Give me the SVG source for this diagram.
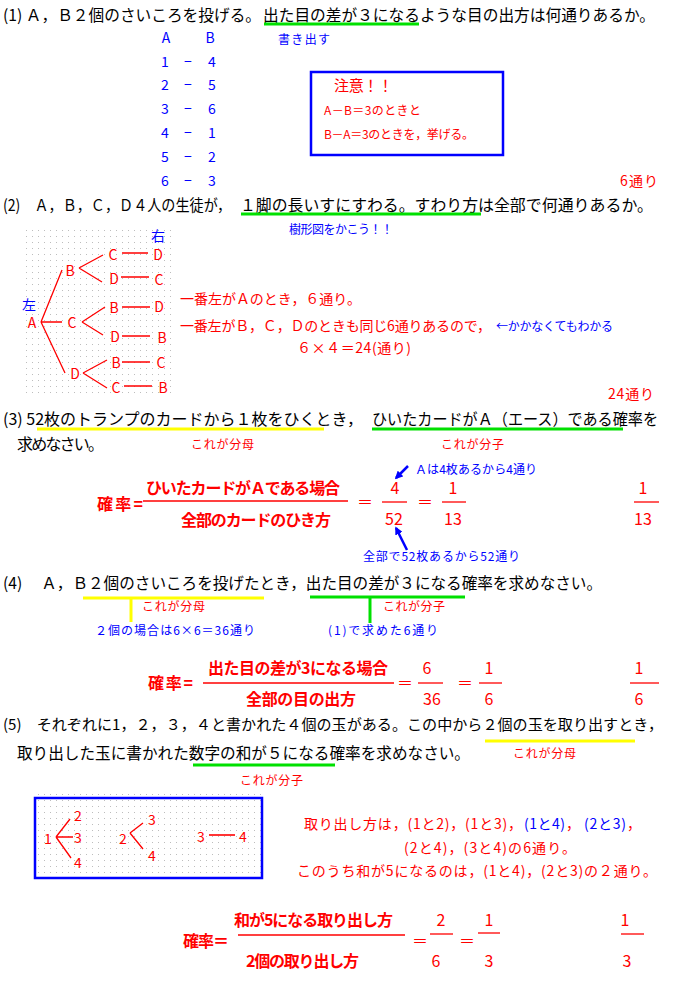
<svg xmlns="http://www.w3.org/2000/svg" width="680" height="997" viewBox="0 0 680 997">
<defs>
<style>
text{font-family:"Noto Sans CJK JP","Noto Sans",sans-serif;dominant-baseline:central}
.m{font-size:16px;fill:#000}
.s{font-size:12px}
.n{font-size:14px}
.f{font-size:16px}
.r{fill:#ff0000}
.b{fill:#0000ff}
.bd{font-weight:bold}
.c{text-anchor:middle}
.ln{stroke:#ff0000;stroke-width:1.3;fill:none}
.gu{stroke:#00e000;stroke-width:3}
.yu{stroke:#ffff00;stroke-width:3}
.bx{fill:none;stroke:#0000ff;stroke-width:2.5}
.ar{stroke:#0000ff;stroke-width:2.5;fill:none}
</style>
<pattern id="dots" width="6" height="6" patternUnits="userSpaceOnUse"><rect x="2" y="2" width="1" height="1" fill="#bdbdbd"/></pattern>
<marker id="ah" viewBox="0 0 10 10" refX="8" refY="5" markerWidth="3.2" markerHeight="3.2" orient="auto"><path d="M0,0 L10,5 L0,10 z" fill="#0000ff"/></marker>
</defs>
<rect width="680" height="997" fill="#fff"/>

<g id="q1">
<text class="m" x="3" y="14" textLength="258" lengthAdjust="spacingAndGlyphs">(1) Ａ，Ｂ２個のさいころを投げる。</text>
<text class="m" x="263" y="14" textLength="392" lengthAdjust="spacingAndGlyphs">出た目の差が３になるような目の出方は何通りあるか。</text>
<line class="gu" x1="264" y1="24" x2="419" y2="24"/>
<text class="s b" x="278" y="38" textLength="52">書き出す</text>
<g id="q1-list">
<text class="n b c" x="166" y="37">A</text><text class="n b c" x="210" y="37">B</text>
<text class="n b c" x="165" y="61">1</text><text class="n b c" x="188" y="61">−</text><text class="n b c" x="212" y="61">4</text>
<text class="n b c" x="165" y="84">2</text><text class="n b c" x="188" y="84">−</text><text class="n b c" x="212" y="84">5</text>
<text class="n b c" x="165" y="108">3</text><text class="n b c" x="188" y="108">−</text><text class="n b c" x="212" y="108">6</text>
<text class="n b c" x="165" y="132">4</text><text class="n b c" x="188" y="132">−</text><text class="n b c" x="212" y="132">1</text>
<text class="n b c" x="165" y="156">5</text><text class="n b c" x="188" y="156">−</text><text class="n b c" x="212" y="156">2</text>
<text class="n b c" x="165" y="180">6</text><text class="n b c" x="188" y="180">−</text><text class="n b c" x="212" y="180">3</text>
</g>
<g id="q1-note">
<rect class="bx" x="311" y="72" width="192" height="83"/>
<text class="r" style="font-size:15px" x="334" y="84" textLength="59">注意！！</text>
<text class="s r" x="324" y="109" textLength="97">A－B＝3のときと</text>
<text class="s r" x="324" y="133" textLength="150">B－A＝3のときを，挙げる。</text>
</g>
<text class="n r" x="620" y="180" textLength="38">6通り</text>
</g>

<g id="q2">
<text class="m" x="3" y="204" textLength="228" lengthAdjust="spacingAndGlyphs">(2)　Ａ，Ｂ，Ｃ，Ｄ４人の生徒が，</text>
<text class="m" x="240" y="204" textLength="238" lengthAdjust="spacingAndGlyphs">１脚の長いすにすわる。すわり方</text>
<text class="m" x="478" y="204" textLength="175" lengthAdjust="spacingAndGlyphs">は全部で何通りあるか。</text>
<line class="gu" x1="241" y1="214" x2="481" y2="214"/>
<text class="s b" x="289" y="228" textLength="104">樹形図をかこう！！</text>
<rect x="22" y="229" width="150" height="166" fill="url(#dots)"/>
<g id="tree1">
<text class="n b c" x="158" y="235">右</text>
<text class="n b c" x="29" y="304">左</text>
<text class="n r c" x="32" y="322">A</text>
<text class="n r c" x="70" y="270">B</text>
<text class="n r c" x="72" y="322">C</text>
<text class="n r c" x="75" y="373">D</text>
<text class="n r c" x="113" y="254">C</text><text class="n r c" x="158" y="254">D</text>
<text class="n r c" x="114" y="278">D</text><text class="n r c" x="159" y="279">C</text>
<text class="n r c" x="114" y="307">B</text><text class="n r c" x="159" y="306">D</text>
<text class="n r c" x="115" y="336">D</text><text class="n r c" x="162" y="337">B</text>
<text class="n r c" x="116" y="362">B</text><text class="n r c" x="161" y="362">C</text>
<text class="n r c" x="116" y="387">C</text><text class="n r c" x="163" y="387">B</text>
</g>
<g id="tree1-lines">
<path class="ln" d="M41,322 L62,270 M41,322 L62,322 M41,322 L65,373 M79,268 L103,255 M79,268 L102,282 M82,322 L105,307 M82,322 L103,335 M83,373 L107,360 M83,373 L107,388"/>
<path class="ln" style="stroke-width:1.6" d="M122,253 H148 M121,277 H149 M122,307 H150 M122,336 H150 M122,362 H150 M124,386 H152"/>
</g>
<text class="n r" x="180" y="298" textLength="181">一番左がＡのとき，６通り。</text>
<text class="n r" x="180" y="325" textLength="311">一番左がＢ，Ｃ，Ｄのときも同じ6通りあるので，</text>
<text class="s b" x="496" y="325" textLength="117">←かかなくてもわかる</text>
<text class="n r" x="297" y="347" textLength="114">６×４＝24(通り)</text>
<text class="n r" x="608" y="393" textLength="46">24通り</text>
</g>

<g id="q3">
<text class="m" x="3" y="418" textLength="360" lengthAdjust="spacingAndGlyphs">(3) 52枚のトランプのカードから１枚をひくとき，</text>
<text class="m" x="372" y="418" textLength="286" lengthAdjust="spacingAndGlyphs">ひいたカードがＡ（エース）である確率を</text>
<line class="yu" x1="37" y1="429" x2="324" y2="429"/>
<line class="gu" x1="372" y1="429" x2="623" y2="429"/>
<text class="m" x="17" y="443" textLength="87">求めなさい。</text>
<text class="s r" x="191" y="443" textLength="63">これが分母</text>
<text class="s r" x="441" y="443" textLength="63">これが分子</text>
<text class="s b" x="415" y="468" textLength="122">Ａは4枚あるから4通り</text>
<path class="ar" d="M408,466 L396,478" marker-end="url(#ah)"/>
<text class="f r bd" x="97" y="503" textLength="46">確率=</text>
<text class="f r bd" x="146" y="487" textLength="194">ひいたカードがＡである場合</text>
<line class="ln" x1="143" y1="501" x2="348" y2="501"/>
<text class="f r bd" x="181" y="519" textLength="150">全部のカードのひき方</text>
<text class="f r c" x="365" y="501">＝</text>
<text class="f r c" x="395" y="487">4</text>
<line class="ln" x1="382" y1="502" x2="407" y2="502"/>
<text class="f r c" x="394" y="518">52</text>
<text class="f r c" x="425" y="501">＝</text>
<text class="f r c" x="453" y="487">1</text>
<line class="ln" x1="442" y1="502" x2="466" y2="502"/>
<text class="f r c" x="453" y="518">13</text>
<text class="f r c" x="643" y="487">1</text>
<line class="ln" x1="634" y1="502" x2="659" y2="502"/>
<text class="f r c" x="643" y="518">13</text>
<path class="ar" d="M407,550 L396,528" marker-end="url(#ah)"/>
<text class="s b" x="363" y="555" textLength="157">全部で52枚あるから52通り</text>
</g>

<g id="q4">
<text class="m" x="3" y="582" textLength="599" lengthAdjust="spacingAndGlyphs">(4)　 Ａ，Ｂ２個のさいころを投げたとき，出た目の差が３になる確率を求めなさい。</text>
<line class="yu" x1="83" y1="598" x2="264" y2="598"/>
<line class="yu" x1="131" y1="598" x2="131" y2="622"/>
<text class="s r" x="142" y="605" textLength="63">これが分母</text>
<text class="s b" x="95" y="629" textLength="160">２個の場合は6×6＝36通り</text>
<line class="gu" x1="310" y1="597" x2="465" y2="597"/>
<line class="gu" x1="370" y1="597" x2="370" y2="623"/>
<text class="s r" x="383" y="605" textLength="62">これが分子</text>
<text class="s b" x="328" y="629" textLength="110">(1)で求めた6通り</text>
<text class="f r bd" x="148" y="682" textLength="45">確率=</text>
<text class="f r bd" x="208" y="667" textLength="180">出た目の差が3になる場合</text>
<line class="ln" x1="203" y1="683" x2="394" y2="683"/>
<text class="f r bd" x="246" y="698" textLength="110">全部の目の出方</text>
<text class="f r c" x="405" y="682">＝</text>
<text class="f r c" x="427" y="667">6</text>
<line class="ln" x1="418" y1="683" x2="443" y2="683"/>
<text class="f r c" x="432" y="698">36</text>
<text class="f r c" x="465" y="682">＝</text>
<text class="f r c" x="489" y="667">1</text>
<line class="ln" x1="479" y1="683" x2="502" y2="683"/>
<text class="f r c" x="489" y="698">6</text>
<text class="f r c" x="639" y="667">1</text>
<line class="ln" x1="630" y1="683" x2="659" y2="683"/>
<text class="f r c" x="639" y="698">6</text>
</g>

<g id="q5">
<text class="m" style="font-size:15px" x="3" y="723" textLength="660" lengthAdjust="spacingAndGlyphs">(5)　それぞれに1，２，３，４と書かれた４個の玉がある。この中から２個の玉を取り出すとき，</text>
<text class="m" x="17" y="752" textLength="453" lengthAdjust="spacingAndGlyphs">取り出した玉に書かれた数字の和が５になる確率を求めなさい。</text>
<line class="yu" x1="485" y1="741" x2="635" y2="741"/>
<text class="s r" x="513" y="752" textLength="63">これが分母</text>
<line class="gu" x1="193" y1="765" x2="335" y2="765"/>
<text class="s r" x="240" y="779" textLength="63">これが分子</text>
<rect x="33" y="794" width="232" height="87" fill="url(#dots)"/>
<rect class="bx" x="35" y="798" width="227" height="80"/>
<g id="tree2">
<text class="n r c" x="48" y="838">1</text>
<text class="n r c" x="78" y="815">2</text>
<text class="n r c" x="78" y="837">3</text>
<text class="n r c" x="78" y="862">4</text>
<text class="n r c" x="123" y="838">2</text>
<text class="n r c" x="152" y="819">3</text>
<text class="n r c" x="152" y="855">4</text>
<text class="n r c" x="201" y="836">3</text>
<text class="n r c" x="243" y="836">4</text>
</g>
<g id="tree2-lines">
<path class="ln" d="M56,837 L70,819 M56,837 L73,837 M56,837 L71,858 M130,833 L143,823 M130,833 L143,849"/>
<path class="ln" style="stroke-width:1.6" d="M209,835 H235"/>
</g>
<text class="n r" x="304" y="823" textLength="218">取り出し方は，(1と2)，(1と3)，</text>
<text class="n b" x="524" y="823" textLength="41">(1と4)</text>
<text class="n r" x="566" y="823">，</text>
<text class="n b" x="584" y="823" textLength="42">(2と3)</text>
<text class="n r" x="627" y="823">，</text>
<text class="n r" x="404" y="847" textLength="172">(2と4)，(3と4)の6通り。</text>
<text class="n r" x="297" y="870" textLength="360">このうち和が5になるのは，(1と4)，(2と3)の２通り。</text>
<text class="f r bd" x="183" y="940" textLength="46">確率＝</text>
<text class="f r bd" x="234" y="919" textLength="159">和が5になる取り出し方</text>
<line class="ln" x1="238" y1="935" x2="405" y2="935"/>
<text class="f r bd" x="246" y="960" textLength="113">2個の取り出し方</text>
<text class="f r c" x="420" y="940">＝</text>
<text class="f r c" x="441" y="919">2</text>
<line class="ln" x1="430" y1="934" x2="453" y2="934"/>
<text class="f r c" x="436" y="960">6</text>
<text class="f r c" x="467" y="940">＝</text>
<text class="f r c" x="489" y="919">1</text>
<line class="ln" x1="478" y1="933" x2="500" y2="933"/>
<text class="f r c" x="489" y="960">3</text>
<text class="f r c" x="625" y="919">1</text>
<line class="ln" x1="621" y1="934" x2="644" y2="934"/>
<text class="f r c" x="627" y="960">3</text>
</g>
</svg>
